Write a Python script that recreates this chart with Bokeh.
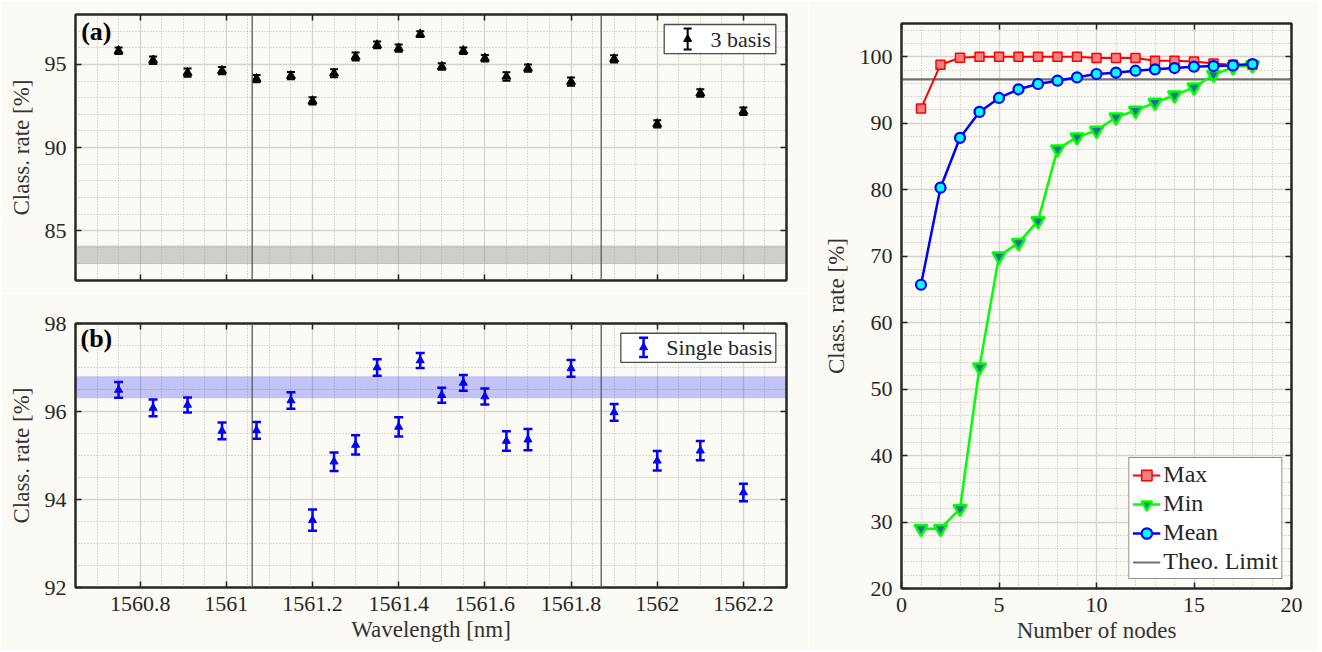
import numpy as np
from bokeh.plotting import figure
from bokeh.models import (Range1d, LinearAxis, SingleIntervalTicker, CustomJSTickFormatter,
                          Span, BoxAnnotation, Label, Legend, LegendItem, ColumnDataSource)
from bokeh.layouts import row, column
from bokeh.embed import file_html
from bokeh.resources import INLINE

# ---------------- data ----------------
wavelength_nm = [1560.75, 1560.83, 1560.91, 1560.99, 1561.07, 1561.15, 1561.20, 1561.25,
                 1561.30, 1561.35, 1561.40, 1561.45, 1561.50, 1561.55, 1561.60, 1561.65,
                 1561.70, 1561.80, 1561.90, 1562.00, 1562.10, 1562.20]
rate_3basis = [95.82, 95.25, 94.50, 94.62, 94.14, 94.32, 92.80, 94.47, 95.47, 96.17, 95.98,
               96.82, 94.87, 95.82, 95.37, 94.27, 94.77, 93.96, 95.33, 91.42, 93.28, 92.18]
err_3basis = [0.20, 0.22, 0.25, 0.22, 0.22, 0.22, 0.22, 0.24, 0.24, 0.20, 0.22,
              0.18, 0.20, 0.20, 0.20, 0.25, 0.22, 0.25, 0.22, 0.22, 0.22, 0.22]
rate_single = [96.49, 96.08, 96.15, 95.56, 95.57, 96.25, 93.53, 94.86, 95.24, 97.00, 95.65,
               97.16, 96.37, 96.65, 96.34, 95.33, 95.36, 96.98, 95.98, 94.88, 95.11, 94.16]
err_single = [0.18, 0.19, 0.17, 0.19, 0.19, 0.19, 0.24, 0.21, 0.22, 0.19, 0.22,
              0.17, 0.17, 0.18, 0.18, 0.22, 0.24, 0.19, 0.19, 0.22, 0.22, 0.20]
band_3basis = [83.0, 84.1]
band_single = [96.3, 96.8]
region_edges_nm = [1561.06, 1561.87]

nodes = [1, 2, 3, 4, 5, 6, 7, 8, 9, 10, 11, 12, 13, 14, 15, 16, 17, 18]
rate_max = [92.2, 98.8, 99.85, 100.0, 100.0, 100.0, 100.0, 100.0, 100.0, 99.8, 99.8, 99.8,
            99.4, 99.4, 99.3, 99.0, 98.8, 98.8]
rate_min = [29.0, 29.0, 32.0, 53.3, 70.0, 72.0, 75.3, 86.1, 87.9, 88.9, 90.9, 91.9,
            93.1, 94.2, 95.4, 97.3, 98.4, 98.75]
rate_mean = [65.7, 80.3, 87.8, 91.7, 93.8, 95.1, 95.9, 96.4, 96.9, 97.4, 97.6, 97.9,
             98.1, 98.3, 98.5, 98.6, 98.7, 98.9]
theo_limit = 96.6

xlim_wl = (1560.65, 1562.30)
ylim_a = (82, 98)
ylim_b = (92, 98)
xlim_c = (0, 20)
ylim_c = (20, 105)

FONT = "'Liberation Serif', serif"
BG = "#FCFAF4"
INK = "#262626"
TICK_FS = "22px"
LABEL_FS = "23px"


def num_fmt():
    return CustomJSTickFormatter(code="return String(Math.round(tick*100)/100)")


def blank_fmt():
    return CustomJSTickFormatter(code="return ''")


def style_axis(ax, show_labels=True):
    ax.major_tick_in = 6
    ax.major_tick_out = 0
    ax.minor_tick_in = 0
    ax.minor_tick_out = 0
    ax.minor_tick_line_color = None
    ax.major_tick_line_color = INK
    ax.major_tick_line_width = 1.5
    ax.axis_line_color = INK
    ax.axis_line_width = 2
    ax.major_label_text_font = FONT
    ax.major_label_text_color = INK
    ax.axis_label_text_font = FONT
    ax.axis_label_text_font_size = LABEL_FS
    ax.axis_label_text_font_style = "normal"
    ax.axis_label_text_color = "#333333"
    if show_labels:
        ax.major_label_text_font_size = TICK_FS
        ax.formatter = num_fmt()
    else:
        ax.major_label_text_font_size = "0px"
        ax.formatter = blank_fmt()
        ax.major_label_standoff = 0


def make_panel(width, height, xlim, ylim, xint, xminor, yint, yminor, borders,
               show_xlabels=True, xlabel=None, ylabel=None):
    p = figure(width=width, height=height, x_range=Range1d(*xlim), y_range=Range1d(*ylim),
               output_backend="svg", toolbar_location=None,
               min_border_left=borders[0], min_border_right=borders[1],
               min_border_top=borders[2], min_border_bottom=borders[3])
    p.background_fill_color = BG
    p.border_fill_color = BG
    p.outline_line_color = INK
    p.outline_line_width = 2
    xt = SingleIntervalTicker(interval=xint, num_minor_ticks=xminor)
    yt = SingleIntervalTicker(interval=yint, num_minor_ticks=yminor)
    p.xaxis.ticker = xt
    p.yaxis.ticker = yt
    p.xgrid.ticker = xt
    p.ygrid.ticker = yt
    for g in (p.xgrid, p.ygrid):
        g.grid_line_color = "#D6D4CE"
        g.grid_line_width = 1.3
        g.minor_grid_line_color = "#BDBBB5"
        g.minor_grid_line_dash = "1 2"
        g.minor_grid_line_width = 1
    style_axis(p.xaxis[0], show_xlabels)
    style_axis(p.yaxis[0], True)
    p.xaxis.major_label_standoff = 9 if show_xlabels else 0
    p.yaxis.major_label_standoff = 9
    if xlabel:
        p.xaxis.axis_label = xlabel
        p.xaxis.axis_label_standoff = 3
    if ylabel:
        p.yaxis.axis_label = ylabel
        p.yaxis.axis_label_standoff = 8
    top_ax = LinearAxis(ticker=SingleIntervalTicker(interval=xint, num_minor_ticks=xminor))
    right_ax = LinearAxis(ticker=SingleIntervalTicker(interval=yint, num_minor_ticks=yminor))
    style_axis(top_ax, False)
    style_axis(right_ax, False)
    p.add_layout(top_ax, "above")
    p.add_layout(right_ax, "right")
    return p


def fx(lim, f):
    return lim[0] + f * (lim[1] - lim[0])


def fy(lim, f_from_top):
    return lim[1] - f_from_top * (lim[1] - lim[0])


def errorbar_panel(p, x, y, err, color, lw, cap, msize, band, band_color, band_alpha):
    lo = (np.array(y) - np.array(err)).tolist()
    hi = (np.array(y) + np.array(err)).tolist()
    src = ColumnDataSource(dict(x=x, y=y, lo=lo, hi=hi))
    p.add_layout(BoxAnnotation(bottom=band[0], top=band[1], fill_color=band_color,
                               fill_alpha=band_alpha, line_color=None, level="underlay"))
    for e in region_edges_nm:
        p.add_layout(Span(location=e, dimension="height", line_color="#5A5A5A", line_width=1.3))
    p.segment("x", "lo", "x", "hi", source=src, line_color=color, line_width=lw)
    p.scatter("x", "lo", source=src, marker="dash", size=cap, line_color=color, line_width=lw)
    p.scatter("x", "hi", source=src, marker="dash", size=cap, line_color=color, line_width=lw)
    p.scatter("x", "y", source=src, marker="triangle", size=msize, fill_color=color,
              line_color=color)


def errorbar_legend(p, xlim, ylim, box, sym_x, bar, text_x, text, color, lw, cap, msize):
    p.add_layout(BoxAnnotation(left=fx(xlim, box[0]), right=fx(xlim, box[1]),
                               top=fy(ylim, box[2]), bottom=fy(ylim, box[3]),
                               fill_color="white", fill_alpha=1.0, line_color="#4D4D4D",
                               line_alpha=1.0, line_width=1.3, level="underlay"))
    sx = fx(xlim, sym_x)
    y0, y1 = fy(ylim, bar[0]), fy(ylim, bar[1])
    ym = (y0 + y1) / 2
    p.segment(x0=[sx], y0=[y0], x1=[sx], y1=[y1], line_color=color, line_width=lw)
    p.scatter(x=[sx, sx], y=[y0, y1], marker="dash", size=cap, line_color=color, line_width=lw)
    p.scatter(x=[sx], y=[ym], marker="triangle", size=msize, fill_color=color, line_color=color)
    p.add_layout(Label(x=fx(xlim, text_x), y=ym, text=text, text_baseline="middle",
                       text_align="left", text_font=FONT, text_font_size="22px",
                       text_color=INK))


def panel_tag(p, x, y, text):
    p.add_layout(Label(x=x, y=y, text=text, text_baseline="top", text_align="left",
                       text_font=FONT, text_font_size="26px", text_font_style="bold",
                       text_color="black"))


# ---------------- panel (a) ----------------
pa = make_panel(808, 293, xlim_wl, ylim_a, 0.2, 4, 5, 5, (75, 22, 14, 13),
                show_xlabels=False, ylabel="Class. rate [%]")
errorbar_panel(pa, wavelength_nm, rate_3basis, err_3basis, "black", 2, 8, 9,
               band_3basis, "#9C9A96", 0.45)
errorbar_legend(pa, xlim_wl, ylim_a, (0.828, 0.985, 0.0376, 0.147), 0.861, (0.053, 0.132),
                0.893, "3 basis", "black", 2, 8, 8)
panel_tag(pa, fx(xlim_wl, 0.008), fy(ylim_a, 0.01), "(a)")

# ---------------- panel (b) ----------------
pb = make_panel(808, 357, xlim_wl, ylim_b, 0.2, 4, 2, 4, (75, 22, 30, 63),
                show_xlabels=True, xlabel="Wavelength [nm]", ylabel="Class. rate [%]")
errorbar_panel(pb, wavelength_nm, rate_single, err_single, "#0000FF", 2.5, 9, 8,
               band_single, "#0000FF", 0.22)
errorbar_legend(pb, xlim_wl, ylim_b, (0.767, 0.985, 0.037, 0.147), 0.799, (0.054, 0.127),
                0.831, "Single basis", "#0000FF", 2.5, 9, 8)
panel_tag(pb, fx(xlim_wl, 0.007), fy(ylim_b, 0.0), "(b)")

# ---------------- panel (c) ----------------
pc = make_panel(510, 650, xlim_c, ylim_c, 5, 5, 10, 5, (93, 27, 23, 62),
                show_xlabels=True, xlabel="Number of nodes", ylabel="Class. rate [%]")
r_theo = pc.line(x=[xlim_c[0], xlim_c[1]], y=[theo_limit, theo_limit], line_color="#707070",
                 line_width=2.2)
r_max_l = pc.line(nodes, rate_max, line_color="#FF0000", line_width=2)
r_max_s = pc.scatter(nodes, rate_max, marker="square", size=9, fill_color="#F28080",
                     line_color="#FF0000", line_width=1.5)
r_min_l = pc.line(nodes, rate_min, line_color="#00FF00", line_width=2.5)
r_min_s = pc.scatter(nodes, rate_min, marker="inverted_triangle", size=13, fill_color="#1F6FA0",
                     line_color="#00FF00", line_width=2.5)
r_mean_l = pc.line(nodes, rate_mean, line_color="#0000FF", line_width=2.5)
r_mean_s = pc.scatter(nodes, rate_mean, marker="circle", size=10, fill_color="#00FFFF",
                      line_color="#0000FF", line_width=2.2)
legend = Legend(items=[
    LegendItem(label="Max", renderers=[r_max_l, r_max_s]),
    LegendItem(label="Min", renderers=[r_min_l, r_min_s]),
    LegendItem(label="Mean", renderers=[r_mean_l, r_mean_s]),
    LegendItem(label="Theo. Limit", renderers=[r_theo]),
], location="bottom_right")
legend.background_fill_color = "white"
legend.background_fill_alpha = 1.0
legend.border_line_color = INK
legend.border_line_width = 1.5
legend.label_text_font = FONT
legend.label_text_font_size = "24px"
legend.label_text_color = INK
legend.glyph_width = 28
legend.glyph_height = 26
legend.label_height = 26
legend.spacing = 2
legend.padding = 3
legend.margin = 9
legend.label_standoff = 3
pc.add_layout(legend)
panel_tag(pc, fx(xlim_c, -0.212), fy(ylim_c, -0.005), "(c)")

layout = row(column(pa, pb), pc)

open("out.html", "w").write(file_html(layout, INLINE))
